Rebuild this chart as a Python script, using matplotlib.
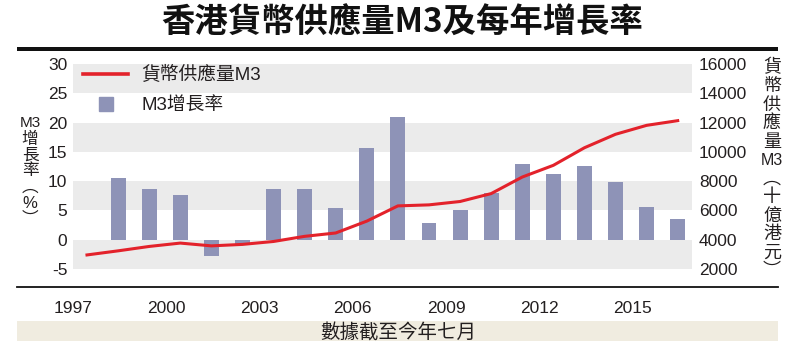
import matplotlib
matplotlib.use('Agg')
import matplotlib.pyplot as plt
from matplotlib.lines import Line2D
from matplotlib.patches import Rectangle

plt.rcParams['font.family'] = ['Liberation Sans', 'Noto Sans CJK TC', 'DejaVu Sans']

# ---- data ----
bar_years = list(range(1998, 2017))
growth = [10.5, 8.6, 7.6, -2.7, -0.7, 8.6, 8.6, 5.4, 15.7, 20.9,
          2.8, 5.1, 8.0, 13.0, 11.2, 12.6, 9.8, 5.6, 3.6]
line_years = list(range(1997, 2017))
m3 = [2960, 3240, 3540, 3770, 3580, 3680, 3880, 4230, 4460, 5270,
      6310, 6380, 6610, 7150, 8280, 9080, 10280, 11200, 11810, 12130]
tick_years = [1997, 2000, 2003, 2006, 2009, 2012, 2015]
left_ticks = [-5, 0, 5, 10, 15, 20, 25, 30]
right_ticks = [2000, 4000, 6000, 8000, 10000, 12000, 14000, 16000]
title = '香港貨幣供應量M3及每年增長率'
line_label = '貨幣供應量M3'
bar_label = 'M3增長率'
left_label = ['M3', '增', '長', '率', '︵', '%', '︶']
right_label = ['貨', '幣', '供', '應', '量', 'M3', '︵', '十', '億', '港', '元', '︶']
note = '數據截至今年七月'

BAR = '#8e93b7'
RED = '#e3222b'
BAND = '#ebebeb'
BEIGE = '#f0ece0'
TXT = '#231f20'
CJK = ['Noto Sans CJK TC', 'DejaVu Sans']
MIX = ['Liberation Sans', 'Noto Sans CJK TC', 'DejaVu Sans']

W, H = 800, 359
fig = plt.figure(figsize=(8, 3.59), dpi=100)

def fx(px):
    return px / W

def fy(py):
    return 1 - py / H

ax = fig.add_axes([fx(73), fy(269), fx(692 - 73), (269 - 64) / H])
ax.set_xlim(1996.62, 2016.46)
ax.set_ylim(-5, 30)

# alternating bands
for i in range(len(left_ticks) - 1):
    if i % 2 == 0:
        ax.axhspan(left_ticks[i], left_ticks[i + 1], color=BAND, zorder=0, lw=0)

ax.bar(bar_years, growth, width=0.48, color=BAR, zorder=2)

ax.set_yticks(left_ticks)
ax.set_yticklabels([str(t) for t in left_ticks])
ax.set_xticks([y - 0.45 for y in tick_years])
ax.set_xticklabels([str(y) for y in tick_years])
ax.tick_params(axis='y', length=0, pad=4, labelsize=12.5, labelcolor=TXT)
ax.tick_params(axis='x', length=0, pad=23, labelsize=12.5, labelcolor=TXT)
for s in ax.spines.values():
    s.set_visible(False)

ax2 = ax.twinx()
ax2.set_ylim(2000, 16000)
ax2.plot(line_years, m3, color=RED, lw=2.2, zorder=3)
ax2.set_yticks(right_ticks)
ax2.set_yticklabels([str(t) for t in right_ticks])
ax2.tick_params(axis='y', length=0, pad=5, labelsize=12.5, labelcolor=TXT)
for s in ax2.spines.values():
    s.set_visible(False)

handles = [Line2D([0], [0], color=RED, lw=2.6),
           Line2D([0], [0], color=BAR, lw=0, marker='s', markersize=10)]
leg = ax2.legend(handles, [line_label, bar_label], loc='upper left',
                 bbox_to_anchor=(fx(83), fy(66)), bbox_transform=fig.transFigure,
                 frameon=False, borderpad=0, borderaxespad=0, handlelength=2.4,
                 handletextpad=0.7, labelspacing=0.7,
                 prop={'family': MIX, 'size': 13.5})
for t in leg.get_texts():
    t.set_color(TXT)

# title and rules
fig.text(fx(402), fy(23), title, ha='center', va='center', fontsize=24,
         fontweight='bold', family=CJK, color='#111111')
fig.add_artist(Rectangle((fx(17), fy(51)), fx(778 - 17), 4 / H,
                         transform=fig.transFigure, color='#111111', lw=0))
fig.add_artist(Line2D([fx(17), fx(778)], [fy(287), fy(287)],
                      transform=fig.transFigure, color='#111111', lw=1.3))
fig.add_artist(Rectangle((fx(17), fy(341)), fx(778 - 17), 20 / H,
                         transform=fig.transFigure, color=BEIGE, lw=0))
fig.text(fx(398), fy(333), note, ha='center', va='center', fontsize=14,
         family=CJK, color=TXT)

# vertical axis labels
for i, ch in enumerate(left_label):
    size = 11 if ch == 'M3' else 12
    fig.text(fx(30), fy(123 + 16 * i), ch, ha='center', va='center',
             fontsize=size, family=MIX, color=TXT)
for i, ch in enumerate(right_label):
    size = 11.5 if ch == 'M3' else 13
    fig.text(fx(772), fy(68 + 18.5 * i), ch, ha='center', va='center',
             fontsize=size, family=MIX, color=TXT)

fig.savefig('out.png', dpi=100)
